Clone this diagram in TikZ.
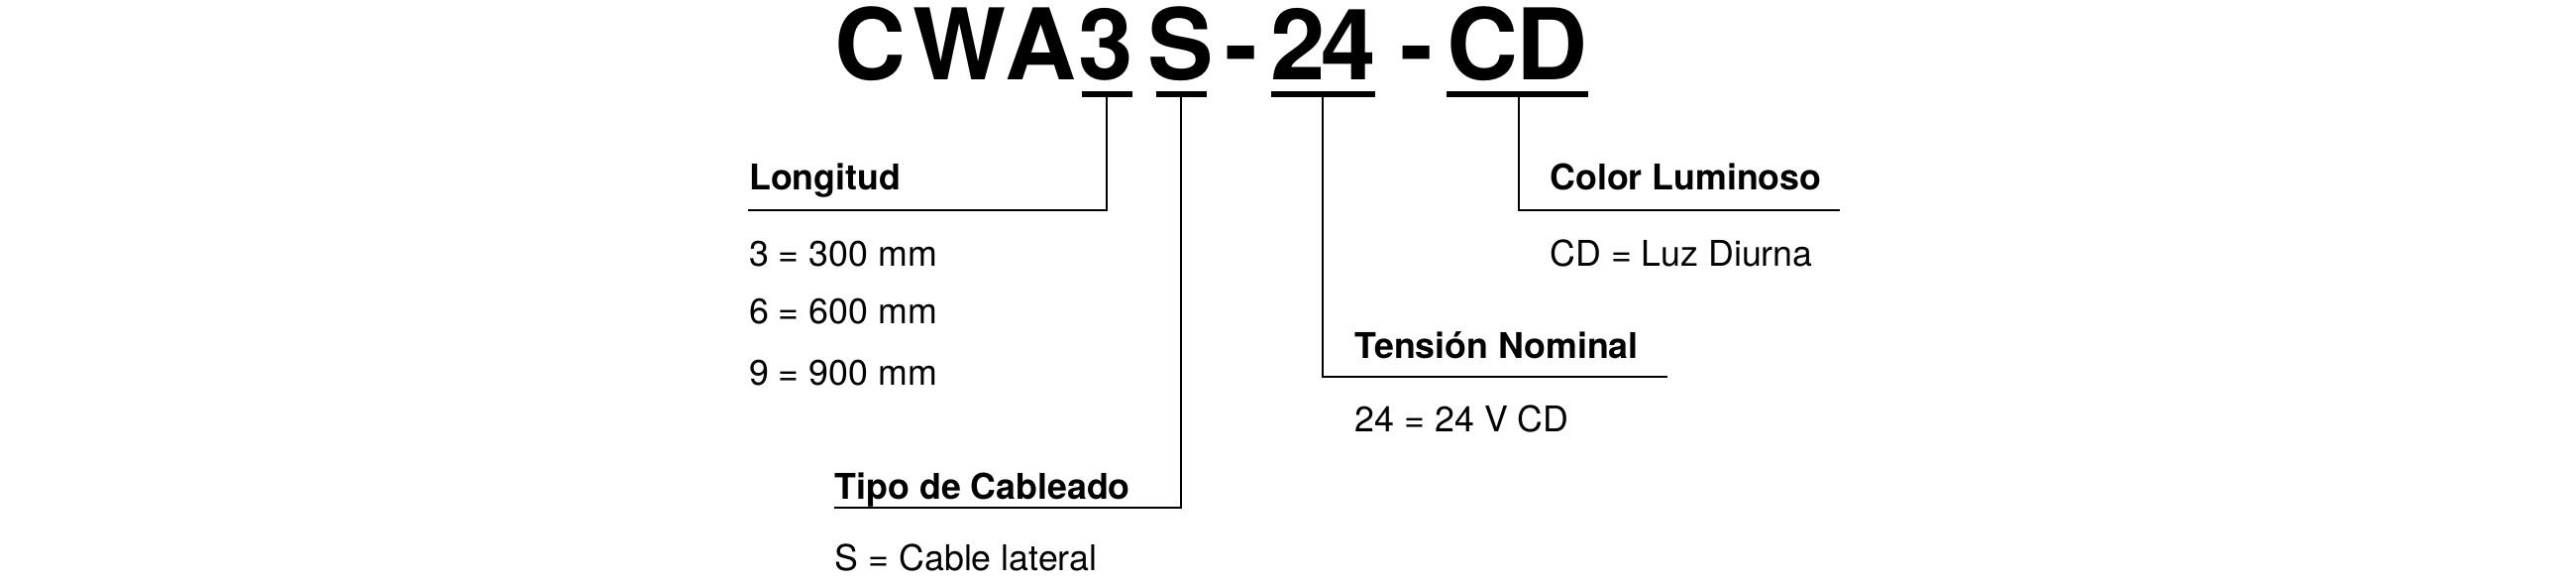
\documentclass[tikz,border=0pt]{standalone}
\usepackage{fontspec}
\setmainfont{TeX Gyre Heros}
\usetikzlibrary{positioning}
\tikzstyle{chr} = [inner sep=0, anchor=base, font=\fontsize{17}{17}\selectfont\bfseries]
\tikzstyle{head} = [inner sep=0, anchor=base west, font=\fontsize{6.1}{7}\selectfont\bfseries]
\tikzstyle{val} = [inner sep=0, anchor=base west, font=\fontsize{6.1}{7}\selectfont]
\tikzstyle{uline} = [draw, line width=0.9pt]
\tikzstyle{line} = [draw, line width=0.3pt]
\begin{document}
\begin{tikzpicture}[x=0.01cm, y=-0.01cm]
\useasboundingbox (0,0) rectangle (1560,354);

% code
\foreach \ch/\cx [count=\i] in {C/527, W/581, A/630, 3/670, S/715, -/752, 2/786, 4/817, -/858, C/898, D/940}
  \node [chr] (c\i) at (\cx,48) {\ch};

% underlines
\coordinate (u3a) at (655,57);  \coordinate (u3b) at (686,57);
\coordinate (usa) at (700,57);  \coordinate (usb) at (731,57);
\coordinate (u24a) at (770,57); \coordinate (u24b) at (833,57);
\coordinate (ucda) at (876,57); \coordinate (ucdb) at (962,57);
\path [uline] (u3a) -- (u3b);
\path [uline] (usa) -- (usb);
\path [uline] (u24a) -- (u24b);
\path [uline] (ucda) -- (ucdb);

% labels
\node [head] (len) at (453,115) {Longitud};
\node [val] (len3) at (453,161) {3 = 300 mm};
\node [val] (len6) at (453,196) {6 = 600 mm};
\node [val] (len9) at (453,233) {9 = 900 mm};
\node [head] (wire) at (505,302) {Tipo de Cableado};
\node [val] (wireS) at (505,345) {S = Cable lateral};
\node [head] (volt) at (820,217) {Tensión Nominal};
\node [val] (volt24) at (820,261) {24 = 24 V CD};
\node [head] (col) at (938,115) {Color Luminoso};
\node [val] (colCD) at (938,161) {CD = Luz Diurna};

% connectors
\coordinate (e3) at (453,127);
\coordinate (eS) at (505,307);
\coordinate (e24) at (1010,228);
\coordinate (eCD) at (1114,127);
\path [line] (670,57) |- (e3);
\path [line] (715,57) |- (eS);
\path [line] (801,57) |- (e24);
\path [line] (920,57) |- (eCD);

\end{tikzpicture}
\end{document}
